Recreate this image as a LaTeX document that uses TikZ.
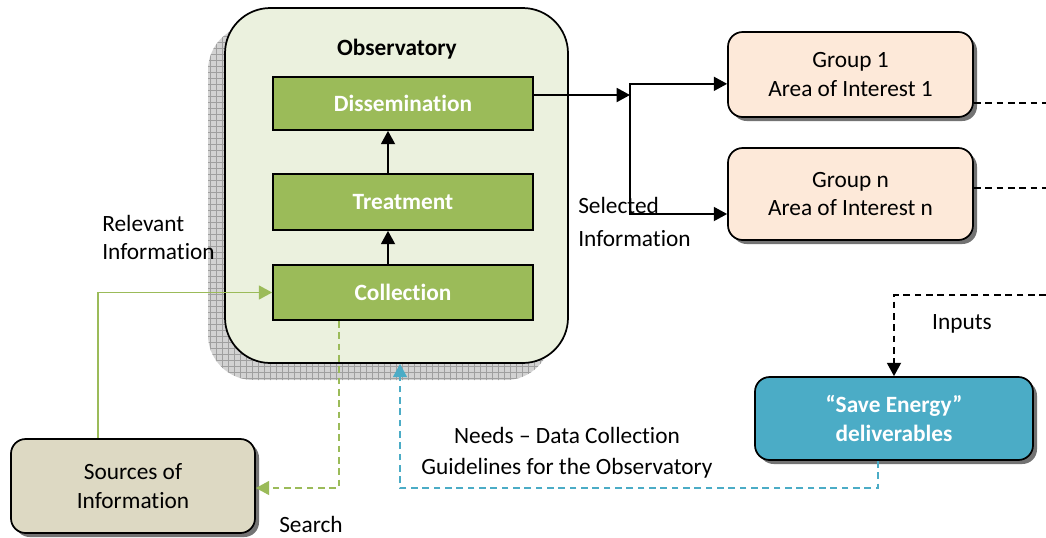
\documentclass[tikz,border=0pt]{standalone}
\usepackage{fontspec}
\setmainfont{Carlito}[Ligatures={TeX,NoCommon}]
\usepackage{tikz}
\usetikzlibrary{arrows.meta}
\usetikzlibrary{shadows}

\definecolor{obsfill}{RGB}{235,241,222}
\definecolor{stepgreen}{RGB}{155,187,89}
\definecolor{grouppeach}{RGB}{253,233,217}
\definecolor{srctan}{RGB}{221,217,195}
\definecolor{saveblue}{RGB}{75,172,198}

\newcommand{\boxfont}{\fontsize{17.5}{21.5}\selectfont}

\tikzset{
  stagebox/.style={draw, line width=1.3pt, fill=stepgreen, text=white, font=\boxfont\bfseries, minimum width=195pt},
  roundbox/.style={draw, line width=1.3pt, rounded corners=11pt, align=center, drop shadow={shadow xshift=3pt, shadow yshift=-3pt, fill=black!55, opacity=1}},
  flow/.style={line width=1.4pt, -{Triangle[length=10pt,width=10.5pt]}},
  dashflow/.style={flow, dash pattern=on 5pt off 3.5pt},
}

\begin{document}
\begin{tikzpicture}[x=0.75pt,y=0.75pt,yscale=-1,xscale=1,font=\boxfont]
\path[use as bounding box] (0,0) rectangle (1046,537);

%Observatory shadow
\begin{scope}
\clip[rounded corners=34pt] (208,25) rectangle (551,380);
\fill[gray!35] (208,25) rectangle (551,380);
\draw[gray!75, line width=0.5pt, step=4.5pt] (200,20) grid (560,390);
\end{scope}
%Observatory
\node[draw, line width=1.3pt, fill=obsfill, rounded corners=34pt, minimum width=257.25pt, minimum height=266.25pt] (obs) at (396.5,185.5) {};
% Text Node
\node[font=\boxfont\bfseries] (obstitle) at (397,49) {Observatory};

%Stages
\node[stagebox, minimum height=39.75pt] (diss) at (403,103.5) {Dissemination};
\node[stagebox, minimum height=42pt] (treat) at (403,202) {Treatment};
\node[stagebox, minimum height=41.25pt] (coll) at (403,292.5) {Collection};

%Rounded boxes
\node[roundbox, fill=grouppeach, minimum width=183.75pt, minimum height=63.75pt] (grp1) at (850.5,74.5) {Group 1\\Area of Interest 1};
\node[roundbox, fill=grouppeach, minimum width=183.75pt, minimum height=69pt] (grpn) at (850.5,194) {Group n\\Area of Interest n};
\node[roundbox, fill=saveblue, text=white, font=\boxfont\bfseries, minimum width=208.5pt, minimum height=62.25pt] (save) at (894,418.5) {``Save Energy''\\deliverables};
\node[roundbox, fill=srctan, minimum width=183pt, minimum height=70.5pt] (src) at (133,486) {Sources of\\Information};

%Coordinates
\coordinate (split) at (630,95);
\coordinate (g1out) at (1046,103);
\coordinate (gnout) at (1046,188);
\coordinate (inin) at (1046,295);
\coordinate (guide) at (400,488);
\coordinate (search) at (339,488);

%Straight Lines
\draw[flow] ([xshift=-11.25pt]coll.north) -- ([xshift=-11.25pt]treat.south);
\draw[flow] ([xshift=-11.25pt]treat.north) -- ([xshift=-11.25pt]diss.south);
\draw[flow] (diss.east |- split) -- (split);
\draw[flow] (split) |- ([yshift=7pt]grp1.west);
\draw[flow] (split) |- ([yshift=15pt]grpn.west);
\draw[line width=1.2pt, dash pattern=on 5pt off 3.5pt] (grp1.east |- g1out) -- (g1out);
\draw[line width=1.2pt, dash pattern=on 5pt off 3.5pt] (grpn.east |- gnout) -- (gnout);
\draw[dashflow] (inin) -| (save.north);
\draw[dashflow, saveblue, line width=1.2pt] ([xshift=-12pt]save.south) |- (guide) -- (guide |- obs.south);
\draw[dashflow, stepgreen, line width=1.2pt] (search |- coll.south) -- (search) -- (search -| src.east);
\draw[flow, stepgreen, line width=1.2pt] ([xshift=-26.25pt]src.north) |- (coll.west);

% Text Node
\node[anchor=west, align=left, inner sep=0pt] (relinfo) at (102,237.5) {Relevant\\Information};
% Text Node
\node[anchor=west, align=left, inner sep=0pt] (selinfo) at (578,222) {Selected\\[3pt]Information};
% Text Node
\node (needs) at (567,435) {Needs -- Data Collection};
% Text Node
\node (guides) at (567,468) {Guidelines for the Observatory};
% Text Node
\node (inputs) at (962,324) {Inputs};
% Text Node
\node (searchlbl) at (311,524) {Search};

\end{tikzpicture}
\end{document}
